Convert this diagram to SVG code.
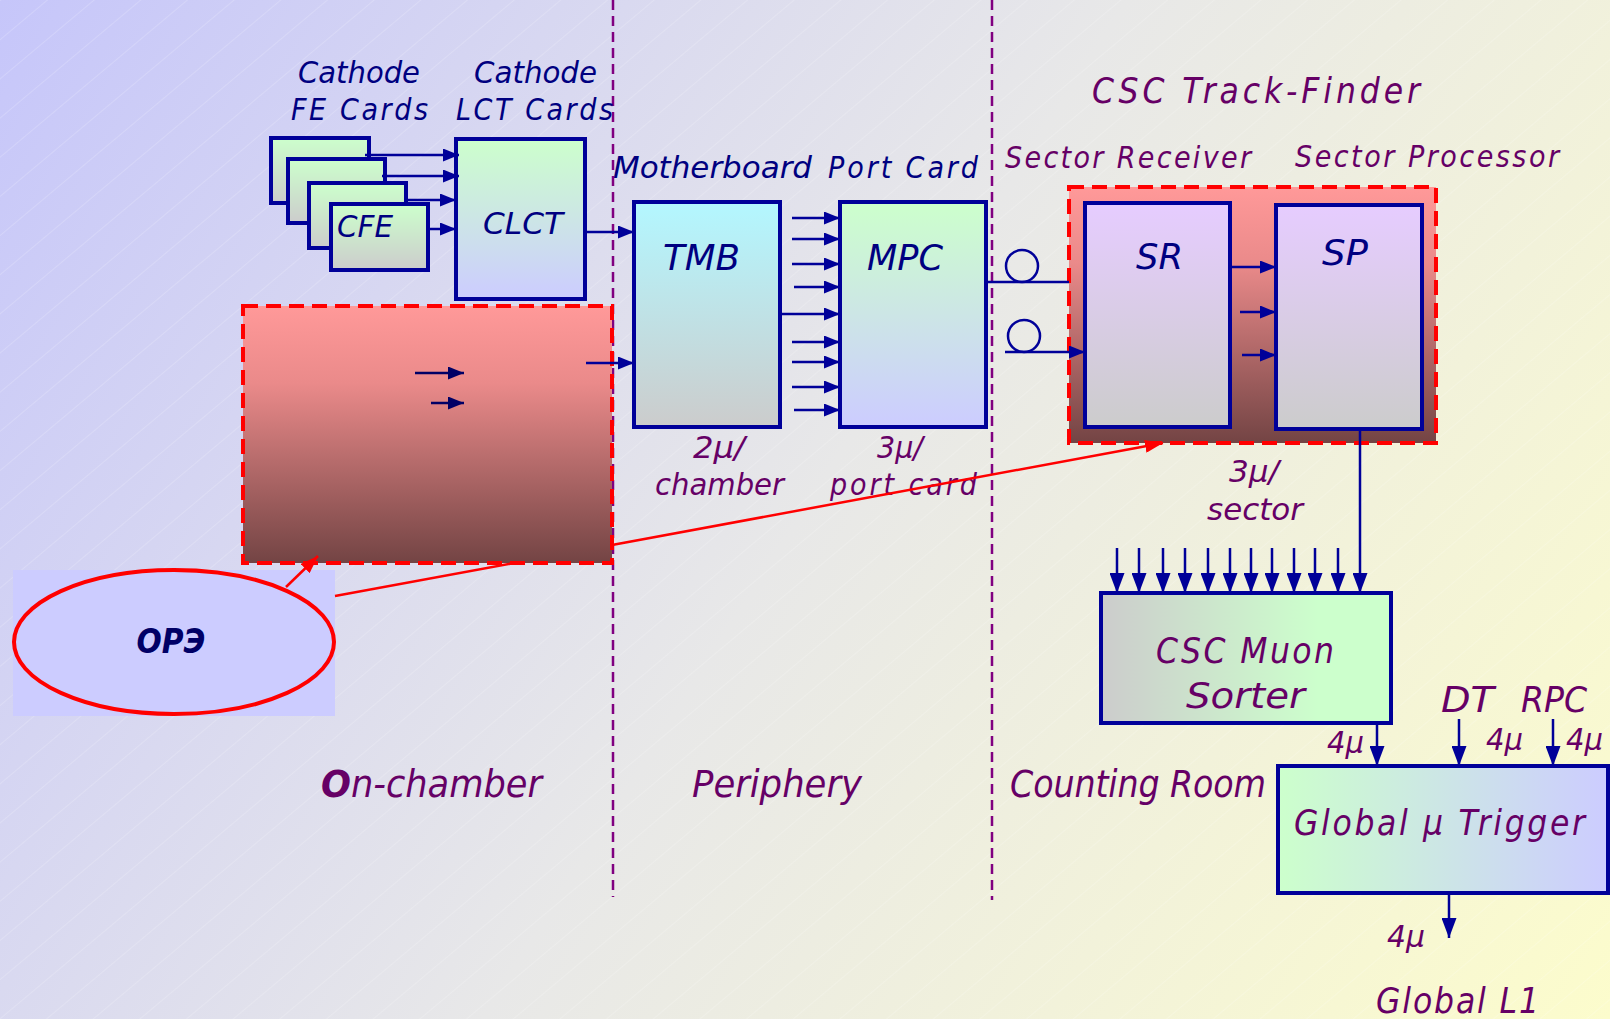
<svg xmlns="http://www.w3.org/2000/svg" width="1610" height="1019" viewBox="0 0 1610 1019">
<defs>
<linearGradient id="bg" gradientUnits="userSpaceOnUse" x1="0" y1="0" x2="1610" y2="1019">
<stop offset="0" stop-color="#c6c6fa"/><stop offset="0.5" stop-color="#e8e8e8"/><stop offset="1" stop-color="#fcfccc"/>
</linearGradient>
<pattern id="hatch" width="30" height="30" patternUnits="userSpaceOnUse" patternTransform="rotate(-40)">
<line x1="0" y1="0" x2="30" y2="0" stroke="#ffffff" stroke-width="1" stroke-opacity="0.35"/>
</pattern>
<linearGradient id="gCard" x1="0" y1="0" x2="0" y2="1"><stop offset="0" stop-color="#ccffcc"/><stop offset="1" stop-color="#cccccc"/></linearGradient>
<linearGradient id="gGL" x1="0" y1="0" x2="0" y2="1"><stop offset="0" stop-color="#ccffcc"/><stop offset="1" stop-color="#ccccff"/></linearGradient>
<linearGradient id="gTMB" x1="0" y1="0" x2="0" y2="1"><stop offset="0" stop-color="#b3f7ff"/><stop offset="1" stop-color="#cccccc"/></linearGradient>
<linearGradient id="gS" x1="0" y1="0" x2="0" y2="1"><stop offset="0" stop-color="#e6ccff"/><stop offset="1" stop-color="#cccccc"/></linearGradient>
<linearGradient id="gRed" x1="0" y1="0" x2="0" y2="1"><stop offset="0" stop-color="#ff9999"/><stop offset="0.3" stop-color="#ea8a8a"/><stop offset="1" stop-color="#734444"/></linearGradient>
<linearGradient id="gSort" x1="0" y1="0" x2="1" y2="0"><stop offset="0" stop-color="#cccccc"/><stop offset="0.75" stop-color="#ccffcc"/><stop offset="1" stop-color="#ccffcc"/></linearGradient>
<linearGradient id="gGMT" x1="0" y1="0" x2="1" y2="0"><stop offset="0" stop-color="#ccffcc"/><stop offset="1" stop-color="#ccccff"/></linearGradient>
<marker id="ah" viewBox="0 0 16 13" refX="16" refY="6.5" markerWidth="16" markerHeight="13" markerUnits="userSpaceOnUse" orient="auto"><path d="M0,0L16,6.5L0,13z" fill="#000099"/></marker>
<marker id="ahd" viewBox="0 0 16 13" refX="16" refY="6.5" markerWidth="16" markerHeight="13" markerUnits="userSpaceOnUse" orient="auto"><path d="M0,0L16,6.5L0,13z" fill="#000066"/></marker>
<marker id="ahb" viewBox="0 0 20 15" refX="20" refY="7.5" markerWidth="20" markerHeight="15" markerUnits="userSpaceOnUse" orient="auto"><path d="M0,0L20,7.5L0,15z" fill="#000099"/></marker>
<marker id="ahr" viewBox="0 0 18 13" refX="18" refY="6.5" markerWidth="18" markerHeight="13" markerUnits="userSpaceOnUse" orient="auto"><path d="M0,0L18,6.5L0,13z" fill="#ff0000"/></marker>
<style>
.box{stroke:#000099;stroke-width:4}
.redbox{stroke:#ff0000;stroke-width:4;stroke-dasharray:15 8}
.div{stroke:#800080;stroke-width:2.5;stroke-dasharray:10 6;fill:none}
.ar{stroke:#000099;stroke-width:2.5;fill:none;marker-end:url(#ah)}
.arb{stroke:#000099;stroke-width:2.5;fill:none;marker-end:url(#ahb)}
.ln{stroke:#000099;stroke-width:2.5;fill:none}
.red{stroke:#ff0000;stroke-width:2.5;fill:none}
text{font-family:"DejaVu Sans Condensed","DejaVu Sans","Liberation Sans",sans-serif;font-stretch:condensed;font-style:italic}
.nv{fill:#000080}
.pu{fill:#660066}
.s29{font-size:30px}
.s34{font-size:35px}
.s36{font-size:37px}
</style>
</defs>
<rect x="0" y="0" width="1610" height="1019" fill="url(#bg)"/>
<rect x="0" y="0" width="1610" height="1019" fill="url(#hatch)"/>

<g id="dividers">
<line class="div" x1="613" y1="0" x2="613" y2="897"/>
<line class="div" x1="992" y1="0" x2="992" y2="900"/>
</g>

<g id="labels">
<text class="nv s29" x="298" y="83" textLength="122" lengthAdjust="spacingAndGlyphs">Cathode</text>
<text class="nv s29" x="291" y="120" textLength="137" lengthAdjust="spacing">FE Cards</text>
<text class="nv s29" x="474" y="83" textLength="123" lengthAdjust="spacingAndGlyphs">Cathode</text>
<text class="nv s29" x="456" y="120" textLength="157" lengthAdjust="spacing">LCT Cards</text>
<text class="nv s29" x="613" y="178" textLength="199" lengthAdjust="spacingAndGlyphs">Motherboard</text>
<text class="nv s29" x="828" y="178" textLength="150" lengthAdjust="spacing">Port Card</text>
<text class="pu s29" x="693" y="458" textLength="52" lengthAdjust="spacingAndGlyphs">2μ/</text>
<text class="pu s29" x="655" y="495" textLength="129" lengthAdjust="spacingAndGlyphs">chamber</text>
<text class="pu s29" x="877" y="458" textLength="46" lengthAdjust="spacingAndGlyphs">3μ/</text>
<text class="pu s29" x="830" y="495" textLength="147" lengthAdjust="spacing">port card</text>
<text class="pu s34" x="1092" y="103" textLength="328" lengthAdjust="spacing">CSC Track-Finder</text>
<text class="pu s29" x="1005" y="168" textLength="246" lengthAdjust="spacing">Sector Receiver</text>
<text class="pu s29" x="1295" y="167" textLength="264" lengthAdjust="spacing">Sector Processor</text>
<text class="pu s29" x="1229" y="482" textLength="50" lengthAdjust="spacingAndGlyphs">3μ/</text>
<text class="pu s29" x="1207" y="520" textLength="96" lengthAdjust="spacingAndGlyphs">sector</text>
<text class="pu s34" x="1441" y="712" textLength="53" lengthAdjust="spacingAndGlyphs">DT</text>
<text class="pu s34" x="1521" y="712" textLength="66" lengthAdjust="spacingAndGlyphs">RPC</text>
<text class="pu s29" x="1327" y="753" textLength="37" lengthAdjust="spacingAndGlyphs">4μ</text>
<text class="pu s29" x="1486" y="750" textLength="37" lengthAdjust="spacingAndGlyphs">4μ</text>
<text class="pu s29" x="1566" y="750" textLength="37" lengthAdjust="spacingAndGlyphs">4μ</text>
<text class="pu s29" x="1387" y="947" textLength="38" lengthAdjust="spacingAndGlyphs">4μ</text>
<text class="pu s34" x="1376" y="1013" textLength="163" lengthAdjust="spacing">Global L1</text>
<text class="pu s36" x="321" y="797" textLength="221" lengthAdjust="spacingAndGlyphs"><tspan font-weight="bold">O</tspan>n-chamber</text>
<text class="pu s36" x="692" y="797" textLength="170" lengthAdjust="spacingAndGlyphs">Periphery</text>
<text class="pu s36" x="1010" y="797" textLength="256" lengthAdjust="spacing">Counting Room</text>
</g>

<g id="onchamber-box">
<rect class="redbox" x="243" y="306" width="369" height="257" fill="url(#gRed)"/>
</g>

<g id="cfe-cards">
<rect class="box" x="271" y="138" width="98" height="65" fill="url(#gCard)"/>
<rect class="box" x="288" y="159" width="97" height="64" fill="url(#gCard)"/>
<rect class="box" x="309" y="183" width="97" height="65" fill="url(#gCard)"/>
<rect class="box" x="331" y="204" width="97" height="66" fill="url(#gCard)"/>
<text class="nv" font-size="31" x="337" y="237" textLength="56" lengthAdjust="spacingAndGlyphs">CFE</text>
</g>

<g id="clct">
<rect class="box" x="456" y="139" width="129" height="160" fill="url(#gGL)"/>
<text class="nv" font-size="31" x="483" y="234" textLength="80" lengthAdjust="spacingAndGlyphs">CLCT</text>
</g>

<g id="tmb">
<rect class="box" x="634" y="202" width="146" height="225" fill="url(#gTMB)"/>
<text class="nv" font-size="35" x="663" y="270" textLength="77" lengthAdjust="spacingAndGlyphs">TMB</text>
</g>

<g id="mpc">
<rect class="box" x="840" y="202" width="146" height="225" fill="url(#gGL)"/>
<text class="nv" font-size="35" x="867" y="270" textLength="76" lengthAdjust="spacingAndGlyphs">MPC</text>
</g>

<g id="trackfinder-box">
<rect class="redbox" x="1069" y="187" width="367" height="256" fill="url(#gRed)"/>
</g>

<g id="sr">
<rect class="box" x="1085" y="203" width="145" height="224" fill="url(#gS)"/>
<text class="nv" font-size="35" x="1136" y="269" textLength="47" lengthAdjust="spacingAndGlyphs">SR</text>
</g>

<g id="sp">
<rect class="box" x="1276" y="205" width="146" height="224" fill="url(#gS)"/>
<text class="nv" font-size="35" x="1322" y="265" textLength="46" lengthAdjust="spacingAndGlyphs">SP</text>
</g>

<g id="muon-sorter">
<rect class="box" x="1101" y="593" width="290" height="130" fill="url(#gSort)"/>
<text class="pu s34" x="1156" y="663" textLength="178" lengthAdjust="spacing">CSC Muon</text>
<text class="pu s34" x="1186" y="708" textLength="119" lengthAdjust="spacingAndGlyphs">Sorter</text>
</g>

<g id="gmt">
<rect class="box" x="1278" y="766" width="330" height="127" fill="url(#gGMT)"/>
<text class="pu" font-size="35" x="1294" y="835" textLength="291" lengthAdjust="spacing">Global μ Trigger</text>
</g>

<g id="ore">
<rect x="13" y="570" width="322" height="146" fill="#ccccff"/>
<ellipse cx="174" cy="642" rx="160" ry="72" fill="#ccccff" stroke="#ff0000" stroke-width="4"/>
<text fill="#000066" font-size="33" font-weight="bold" x="171" y="653" text-anchor="middle">ОРЭ</text>
</g>

<g id="connectors">
<path class="ar" d="M365,155H459"/>
<path class="ar" d="M382,176H459"/>
<path class="ar" d="M407,200H456"/>
<path class="ar" d="M428,229H456"/>
<path class="ar" d="M585,232H634"/>
<path class="ar" d="M586,363H634"/>
<path d="M415,373H464" stroke="#000066" stroke-width="2.5" marker-end="url(#ahd)"/>
<path d="M431,403H464" stroke="#000066" stroke-width="2.5" marker-end="url(#ahd)"/>
<path class="ar" d="M792,218H840"/>
<path class="ar" d="M792,239H840"/>
<path class="ar" d="M792,264H840"/>
<path class="ar" d="M794,287H840"/>
<path class="ar" d="M780,314H840"/>
<path class="ar" d="M792,342H840"/>
<path class="ar" d="M792,362H840"/>
<path class="ar" d="M792,387H840"/>
<path class="ar" d="M794,410H840"/>
<path class="ln" d="M986,282H1069"/>
<path class="ar" d="M1005,352H1085"/>
<circle class="ln" cx="1022" cy="266" r="16"/>
<circle class="ln" cx="1024" cy="336" r="16"/>
<path class="ar" d="M1230,267H1276"/>
<path class="ar" d="M1240,312H1276"/>
<path class="ar" d="M1242,355H1276"/>
<path class="arb" d="M1360,429V593"/>
<path class="arb" d="M1117,548V593"/>
<path class="arb" d="M1139,548V593"/>
<path class="arb" d="M1163,548V593"/>
<path class="arb" d="M1185,548V593"/>
<path class="arb" d="M1208,548V593"/>
<path class="arb" d="M1230,548V593"/>
<path class="arb" d="M1251,548V593"/>
<path class="arb" d="M1272,548V593"/>
<path class="arb" d="M1294,548V593"/>
<path class="arb" d="M1315,548V593"/>
<path class="arb" d="M1338,548V593"/>
<path class="arb" d="M1377,723V766"/>
<path class="arb" d="M1459,719V766"/>
<path class="arb" d="M1553,719V766"/>
<path class="arb" d="M1449,893V938"/>
<path class="red" d="M286,587L318,556" marker-end="url(#ahr)"/>
<path class="red" d="M335,596L514,563M612,545L1163,443" marker-end="url(#ahr)"/>
</g>
</svg>
